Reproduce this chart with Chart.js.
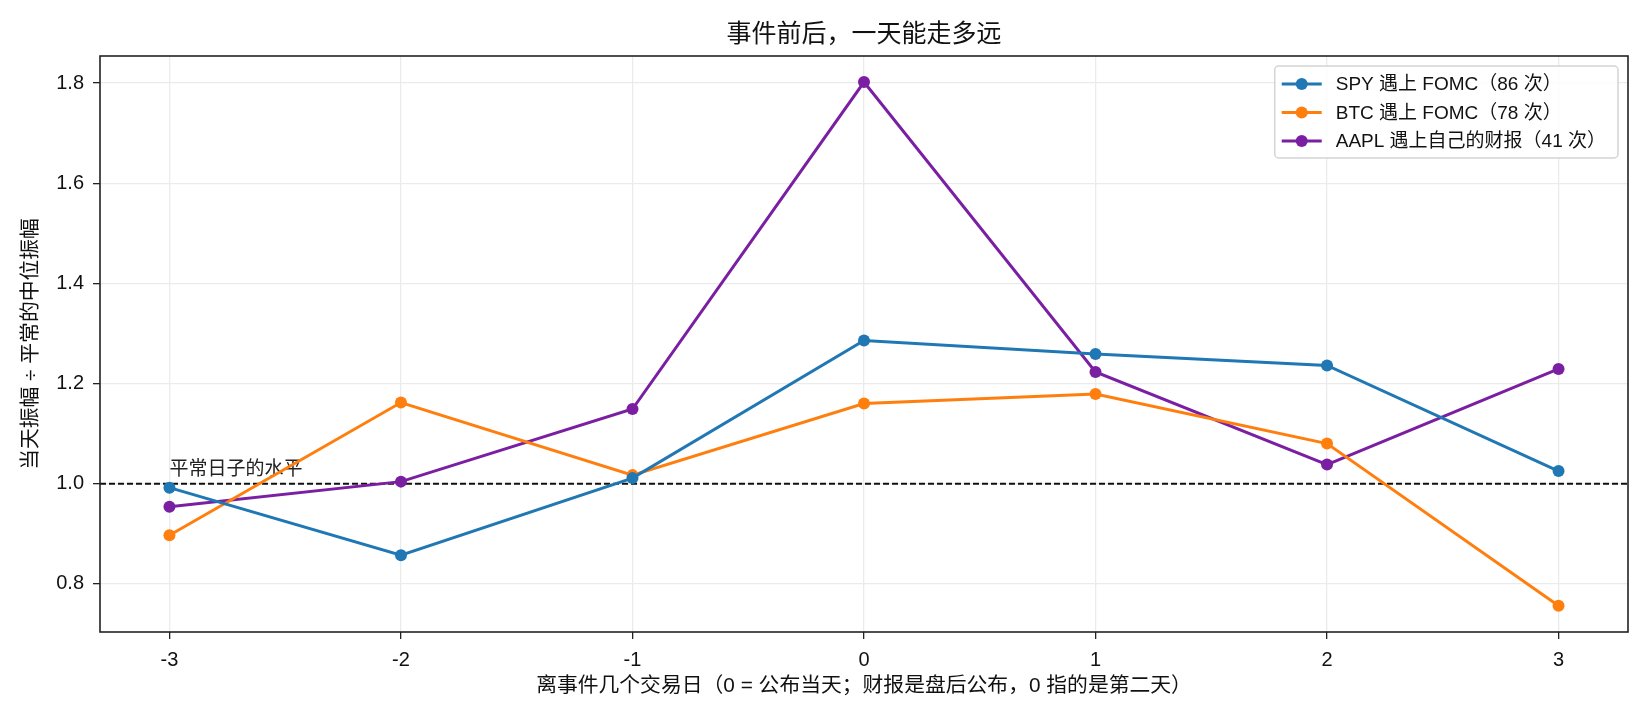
<!DOCTYPE html>
<html>
<head>
<meta charset="utf-8">
<script src="https://cdn.jsdelivr.net/npm/chart.js@4/dist/chart.umd.min.js"></script>
<style>
  html, body { margin: 0; padding: 0; background: #fff; }
  #wrap { width: 1650px; height: 720px; }
</style>
</head>
<body>
<div id="wrap"><canvas id="eventChart" width="1650" height="720"></canvas></div>
<script>
// Data
const days = [-3, -2, -1, 0, 1, 2, 3];
const spyFomc = [0.992, 0.857, 1.011, 1.286, 1.259, 1.236, 1.025];
const btcFomc = [0.897, 1.162, 1.017, 1.160, 1.179, 1.080, 0.756];
const aaplEarnings = [0.954, 1.004, 1.149, 1.802, 1.223, 1.038, 1.229];
const seriesNames = ["SPY 遇上 FOMC（86 次）", "BTC 遇上 FOMC（78 次）", "AAPL 遇上自己的财报（41 次）"];
const xTicks = [-3, -2, -1, 0, 1, 2, 3];
const yTicks = [0.8, 1.0, 1.2, 1.4, 1.6, 1.8];
const baseline = 1.0;
const baselineLabel = "平常日子的水平";
const chartTitle = "事件前后，一天能走多远";

const FONT = "'Liberation Sans', 'Noto Sans CJK SC', sans-serif";

function toPoints(vals) {
  return days.map((d, i) => ({ x: d, y: vals[i] }));
}

function line(label, vals, color) {
  return {
    label: label,
    data: toPoints(vals),
    borderColor: color,
    backgroundColor: color,
    pointBackgroundColor: color,
    pointBorderColor: color,
    borderWidth: 3,
    pointRadius: 6,
    pointBorderWidth: 0,
    tension: 0,
    fill: false,
  };
}

// Dashed baseline, its note, the full frame, title over the plot and an in-plot legend
const extras = {
  id: "extras",
  beforeDatasetsDraw(chart) {
    const { ctx, chartArea: a, scales } = chart;
    const y = scales.y.getPixelForValue(baseline);
    ctx.save();
    ctx.strokeStyle = "#111";
    ctx.lineWidth = 2;
    ctx.setLineDash([6, 3]);
    ctx.beginPath();
    ctx.moveTo(a.left, y);
    ctx.lineTo(a.right, y);
    ctx.stroke();
    ctx.setLineDash([]);
    ctx.fillStyle = "#222";
    ctx.font = "19px " + FONT;
    ctx.textAlign = "left";
    ctx.textBaseline = "alphabetic";
    ctx.fillText(baselineLabel, scales.x.getPixelForValue(days[0]), y - 9);
    ctx.restore();
  },
  afterDatasetsDraw(chart) {
    const { ctx, chartArea: a } = chart;
    ctx.save();
    // frame
    ctx.strokeStyle = "#222";
    ctx.lineWidth = 1.6;
    ctx.strokeRect(a.left, a.top, a.right - a.left, a.bottom - a.top);

    // title, centred over the plot area
    ctx.fillStyle = "#111";
    ctx.font = "25px " + FONT;
    ctx.textAlign = "center";
    ctx.textBaseline = "middle";
    ctx.fillText(chartTitle, (a.left + a.right) / 2, 35);

    // legend
    ctx.font = "19px " + FONT;
    const sets = chart.data.datasets;
    let maxW = 0;
    sets.forEach((ds) => { maxW = Math.max(maxW, ctx.measureText(ds.label).width); });
    const boxW = 7 + 40 + 14 + maxW + 12;
    const boxH = 92;
    const right = a.right - 10;
    const top = a.top + 10;
    const left = right - boxW;
    ctx.fillStyle = "rgba(255,255,255,0.85)";
    ctx.strokeStyle = "#d4d4d4";
    ctx.lineWidth = 1.5;
    ctx.beginPath();
    ctx.roundRect(left, top, boxW, boxH, 4);
    ctx.fill();
    ctx.stroke();
    sets.forEach((ds, i) => {
      const cy = top + 18 + i * 28.5;
      const hx = left + 7;
      ctx.strokeStyle = ds.borderColor;
      ctx.lineWidth = 3;
      ctx.beginPath();
      ctx.moveTo(hx, cy);
      ctx.lineTo(hx + 40, cy);
      ctx.stroke();
      ctx.fillStyle = ds.borderColor;
      ctx.beginPath();
      ctx.arc(hx + 20, cy, 6, 0, Math.PI * 2);
      ctx.fill();
      ctx.fillStyle = "#111";
      ctx.textAlign = "left";
      ctx.textBaseline = "middle";
      ctx.fillText(ds.label, hx + 54, cy + 1);
    });
    ctx.restore();
  },
};

const ctx = document.getElementById("eventChart").getContext("2d");
const chart = new Chart(ctx, {
  type: "line",
  data: {
    datasets: [
      line(seriesNames[0], spyFomc, "#1f77b4"),
      line(seriesNames[1], btcFomc, "#ff7f0e"),
      line(seriesNames[2], aaplEarnings, "#7b1fa2"),
    ],
  },
  options: {
    responsive: false,
    animation: false,
    devicePixelRatio: 1,
    events: [],
    layout: { padding: { left: 0, right: 22, top: 56, bottom: 0 } },
    scales: {
      x: {
        type: "linear",
        min: -3.3,
        max: 3.3,
        afterBuildTicks: (s) => { s.ticks = xTicks.map((v) => ({ value: v })); },
        afterFit: (s) => { s.height = 88; },
        grid: { color: "#ebebeb", lineWidth: 1.3, tickColor: "#222", tickLength: 7, drawTicks: true },
        border: { display: false },
        ticks: {
          color: "#111",
          font: { family: FONT, size: 20 },
          padding: 9,
          maxRotation: 0,
          callback: (v) => String(v),
        },
        title: {
          display: true,
          text: "离事件几个交易日（0 = 公布当天；财报是盘后公布，0 指的是第二天）",
          color: "#111",
          font: { family: FONT, size: 20.8 },
          padding: { top: 0, bottom: 21 },
        },
      },
      y: {
        type: "linear",
        min: 0.7037,
        max: 1.854,
        afterBuildTicks: (s) => { s.ticks = yTicks.map((v) => ({ value: v })); },
        afterFit: (s) => { s.width = 100; },
        grid: { color: "#ebebeb", lineWidth: 1.3, tickColor: "#222", tickLength: 7 },
        border: { display: false },
        ticks: {
          color: "#111",
          font: { family: FONT, size: 20 },
          padding: 9,
          callback: (v) => Number(v).toFixed(1),
        },
        title: {
          display: true,
          text: "当天振幅 ÷ 平常的中位振幅",
          color: "#111",
          font: { family: FONT, size: 20.8 },
          padding: { top: 19, bottom: 0 },
        },
      },
    },
    plugins: {
      legend: { display: false },
      tooltip: { enabled: false },
      title: { display: false },
    },
  },
  plugins: [extras],
});
</script>
</body>
</html>
